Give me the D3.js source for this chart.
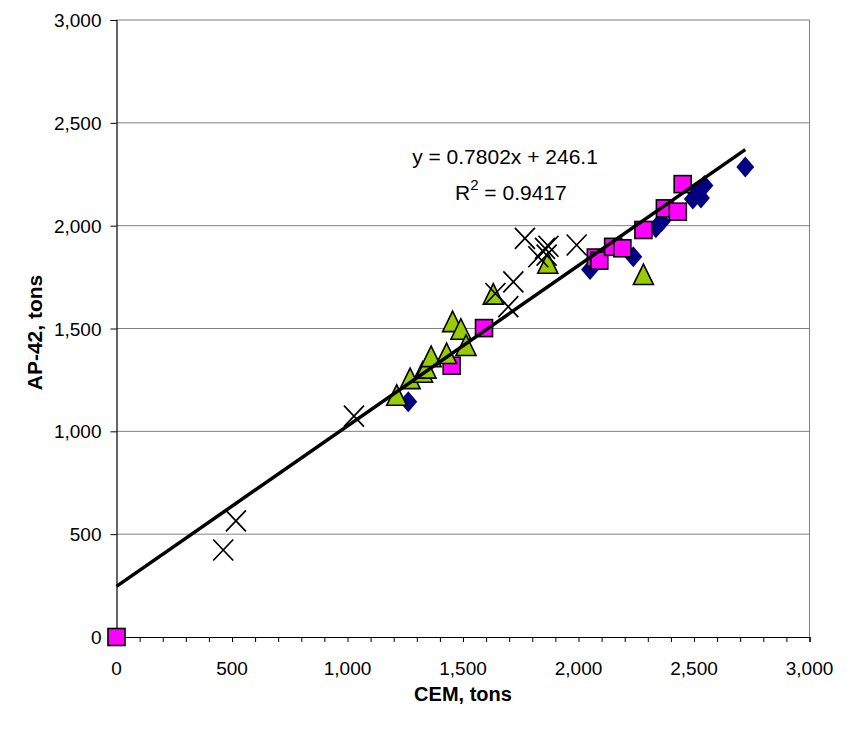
<!DOCTYPE html>
<html>
<head>
<meta charset="utf-8">
<script src="https://cdn.jsdelivr.net/npm/d3@7"></script>
<style>
  html, body { margin: 0; padding: 0; background: #fff; }
  svg { display: block; font-family: Arial, "Liberation Sans", sans-serif; }
</style>
</head>
<body>
<svg id="chart" width="849" height="732"></svg>
<script>
// CEM vs AP-42 emissions (tons), four groups of facilities
const diamondPts = [
  [1263, 1144], [2050, 1787], [2237, 1849], [2335, 1990], [2360, 2020],
  [2495, 2130], [2530, 2135], [2510, 2160], [2545, 2195], [2722, 2285]
];
const squarePts = [
  [0, 0], [1451, 1319], [1591, 1502], [2075, 1845], [2090, 1830],
  [2150, 1897], [2190, 1890], [2281, 1979], [2374, 2084], [2430, 2068], [2451, 2202]
];
const trianglePts = [
  [1213, 1168], [1271, 1249], [1325, 1280], [1340, 1300], [1362, 1356],
  [1429, 1371], [1455, 1526], [1491, 1489], [1513, 1410], [1631, 1660],
  [1867, 1810], [2281, 1755]
];
const crossPts = [
  [462, 423], [517, 565], [1028, 1074], [1640, 1670], [1696, 1606],
  [1718, 1727], [1768, 1938], [1826, 1849], [1855, 1890], [1862, 1857],
  [1870, 1900], [1992, 1906]
];
const trend = { slope: 0.7802, intercept: 246.1, r2: 0.9417, xEnd: 2722 };
const xTicks = [0, 500, 1000, 1500, 2000, 2500, 3000];
const yTicks = [0, 500, 1000, 1500, 2000, 2500, 3000];
const xTitle = "CEM, tons";
const yTitle = "AP-42, tons";

const svg = d3.select("#chart");
const plotLeft = 116.5, plotRight = 809.5, plotTop = 20, plotBottom = 637;

const x = d3.scaleLinear().domain([0, 3000]).range([plotLeft, plotRight]);
const y = d3.scaleLinear().domain([0, 3000]).range([plotBottom, plotTop]);
const fmt = d3.format(",");

// horizontal gridlines
svg.append("g").selectAll("line")
  .data(yTicks.filter(d => d > 0))
  .join("line")
  .attr("x1", plotLeft).attr("x2", plotRight)
  .attr("y1", d => y(d)).attr("y2", d => y(d))
  .attr("stroke", "#808080").attr("stroke-width", 1);

// right edge of plot area
svg.append("line")
  .attr("x1", plotRight).attr("x2", plotRight).attr("y1", plotTop).attr("y2", plotBottom)
  .attr("stroke", "#808080").attr("stroke-width", 1);

// x axis with minor ticks every 100
svg.append("g").attr("transform", `translate(0,${plotBottom})`)
  .call(d3.axisBottom(x).tickValues(d3.range(0, 3001, 100)).tickSize(5).tickFormat(""))
  .call(g => g.select(".domain").attr("stroke", "#000").attr("stroke-width", 1.2))
  .call(g => g.selectAll(".tick line").attr("stroke", "#000"));
svg.append("g").selectAll("text")
  .data(xTicks).join("text")
  .attr("x", d => x(d)).attr("y", plotBottom + 38)
  .attr("text-anchor", "middle")
  .attr("font-size", 19).attr("fill", "#000")
  .text(d => fmt(d));

// y axis
svg.append("g").attr("transform", `translate(${plotLeft},0)`)
  .call(d3.axisLeft(y).tickValues(yTicks).tickSize(6).tickFormat(""))
  .call(g => g.select(".domain").attr("stroke", "#000").attr("stroke-width", 1.2))
  .call(g => g.selectAll(".tick line").attr("stroke", "#000"));
svg.append("g").selectAll("text")
  .data(yTicks).join("text")
  .attr("x", plotLeft - 15).attr("y", d => y(d) + 7)
  .attr("text-anchor", "end")
  .attr("font-size", 19).attr("fill", "#000")
  .text(d => fmt(d));

// axis titles
svg.append("text")
  .attr("x", (plotLeft + plotRight) / 2).attr("y", 701)
  .attr("text-anchor", "middle")
  .attr("font-size", 20).attr("font-weight", "bold")
  .text(xTitle);
svg.append("text")
  .attr("transform", `translate(42,${(plotTop + plotBottom) / 2 + 4}) rotate(-90)`)
  .attr("text-anchor", "middle")
  .attr("font-size", 21).attr("font-weight", "bold")
  .text(yTitle);

const marks = svg.append("g");

// navy diamonds
marks.append("g").selectAll("path")
  .data(diamondPts).join("path")
  .attr("transform", d => `translate(${x(d[0])},${y(d[1])})`)
  .attr("d", "M0,-10.5L9,0L0,10.5L-9,0Z")
  .attr("fill", "#000080");

// magenta squares
marks.append("g").selectAll("rect")
  .data(squarePts).join("rect")
  .attr("x", d => x(d[0]) - 8.5).attr("y", d => y(d[1]) - 8.5)
  .attr("width", 17).attr("height", 17)
  .attr("fill", "#FF00FF").attr("stroke", "#000").attr("stroke-width", 1.6);

// yellow-green triangles
marks.append("g").selectAll("path")
  .data(trianglePts).join("path")
  .attr("transform", d => `translate(${x(d[0])},${y(d[1])})`)
  .attr("d", "M0,-12L10,8.5L-10,8.5Z")
  .attr("fill", "#99CC00").attr("stroke", "#000").attr("stroke-width", 1.6)
  .attr("stroke-linejoin", "miter");

// black crosses
marks.append("g").selectAll("path")
  .data(crossPts).join("path")
  .attr("transform", d => `translate(${x(d[0])},${y(d[1])})`)
  .attr("d", "M-10,-10.5L10,10.5M-10,10.5L10,-10.5")
  .attr("fill", "none").attr("stroke", "#000").attr("stroke-width", 1.7);

// linear trendline
svg.append("line")
  .attr("x1", x(0)).attr("y1", y(trend.intercept))
  .attr("x2", x(trend.xEnd)).attr("y2", y(trend.slope * trend.xEnd + trend.intercept))
  .attr("stroke", "#000").attr("stroke-width", 3.5);

// trendline equation
svg.append("text")
  .attr("x", 505).attr("y", 164)
  .attr("text-anchor", "middle")
  .attr("font-size", 21)
  .text(`y = ${trend.slope}x + ${trend.intercept}`);
const r2 = svg.append("text")
  .attr("x", 455).attr("y", 200)
  .attr("font-size", 21);
r2.append("tspan").text("R");
r2.append("tspan").attr("dy", -10).attr("font-size", 15).text("2");
r2.append("tspan").attr("dy", 10).text(` = ${trend.r2}`);
</script>
</body>
</html>
